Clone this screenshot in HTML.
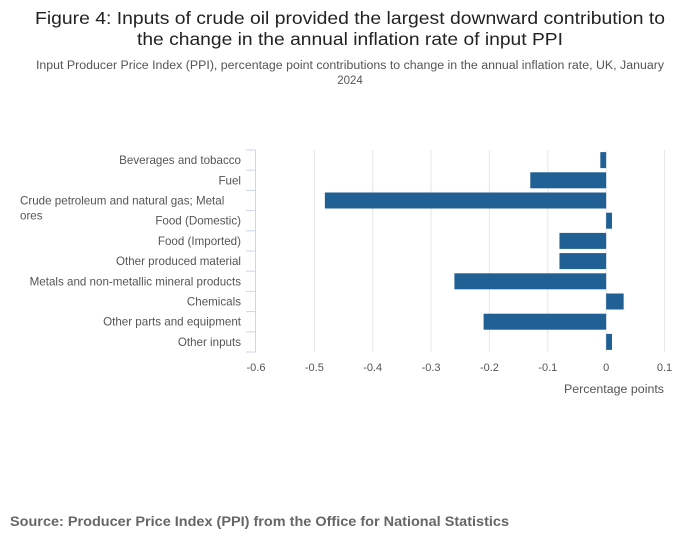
<!DOCTYPE html>
<html><head><meta charset="utf-8"><style>
body{margin:0;background:#fff;width:700px;height:549px;overflow:hidden;font-family:"Liberation Sans",sans-serif;}
svg text{font-family:"Liberation Sans",sans-serif;}
</style></head><body>
<svg width="700" height="549">
<text x="350" y="24" text-anchor="middle" font-size="17.5" fill="#222" textLength="630" lengthAdjust="spacingAndGlyphs">Figure 4: Inputs of crude oil provided the largest downward contribution to</text>
<text x="350" y="45" text-anchor="middle" font-size="17.5" fill="#222" textLength="426" lengthAdjust="spacingAndGlyphs">the change in the annual inflation rate of input PPI</text>
<text x="350" y="69" text-anchor="middle" font-size="11.5" fill="#555" textLength="628" lengthAdjust="spacingAndGlyphs">Input Producer Price Index (PPI), percentage point contributions to change in the annual inflation rate, UK, January</text>
<text x="350" y="84" text-anchor="middle" font-size="11.5" fill="#555">2024</text>
<g id="grid"></g><g id="bars"></g><g id="yaxis"></g><g id="xaxis"></g>
<text x="664" y="393" text-anchor="end" font-size="11.5" fill="#555" textLength="100" lengthAdjust="spacingAndGlyphs">Percentage points</text>
<text x="10" y="526" font-size="13.5" font-weight="bold" fill="#666" textLength="499" lengthAdjust="spacingAndGlyphs">Source: Producer Price Index (PPI) from the Office for National Statistics</text>
</svg>
<script>
const categories=["Beverages and tobacco","Fuel","Crude petroleum and natural gas; Metal ores","Food (Domestic)","Food (Imported)","Other produced material","Metals and non-metallic mineral products","Chemicals","Other parts and equipment","Other inputs"];
const values=[-0.01,-0.13,-0.482,0.01,-0.08,-0.08,-0.26,0.03,-0.21,0.01];
const ticks=[-0.6,-0.5,-0.4,-0.3,-0.2,-0.1,0,0.1];
const NS="http://www.w3.org/2000/svg";
const x0=256,x1=664.5,dmin=-0.6,dmax=0.1,plotTop=150,plotBot=352;
const xs=v=>x0+(v-dmin)/(dmax-dmin)*(x1-x0);
const band=(plotBot-plotTop)/categories.length;
function mk(t,a,p){const e=document.createElementNS(NS,t);for(const k in a)e.setAttribute(k,a[k]);p.appendChild(e);return e;}
const grid=document.getElementById('grid'),bars=document.getElementById('bars'),ya=document.getElementById('yaxis'),xa=document.getElementById('xaxis');
ticks.forEach(t=>{
 if(t>dmin){const g=mk('line',{x1:xs(t),x2:xs(t),y1:plotTop,y2:plotBot,stroke:'#e6e6e6'},grid);
 
 }
 const l=mk('text',{x:xs(t),y:371,'text-anchor':'middle','font-size':'11',fill:'#555'},xa);
 l.textContent=String(t);
 
 
});
const al=mk('line',{x1:255.5,x2:255.5,y1:plotTop,y2:plotBot,stroke:'#ccd6eb'},ya);


for(let i=0;i<=categories.length;i++){const y=plotTop+i*band;const tk=mk('line',{x1:246,x2:256,y1:y,y2:y,stroke:'#ccd6eb'},ya);
 
 }
categories.forEach((c,i)=>{
 const cy=plotTop+(i+0.5)*band;
 const v=values[i];const a=xs(Math.min(0,v)),b=xs(Math.max(0,v));
 const r=mk('rect',{x:a,y:cy-8,width:Math.max(b-a,1),height:16,fill:'#206095'},bars);
 
 
 if(c.length>40){
  const t=mk('text',{x:20,y:cy+4,'font-size':'11.6',fill:'#555'},ya);t.textContent="Crude petroleum and natural gas; Metal";
  
  
  const t2=mk('text',{x:20,y:cy+19,'font-size':'11.6',fill:'#555'},ya);t2.textContent="ores";
  
  
 }else{
  const t=mk('text',{x:241,y:cy+4,'text-anchor':'end','font-size':'11.6',fill:'#555'},ya);t.textContent=c;
  
  
 }
});
</script>
</body></html>
